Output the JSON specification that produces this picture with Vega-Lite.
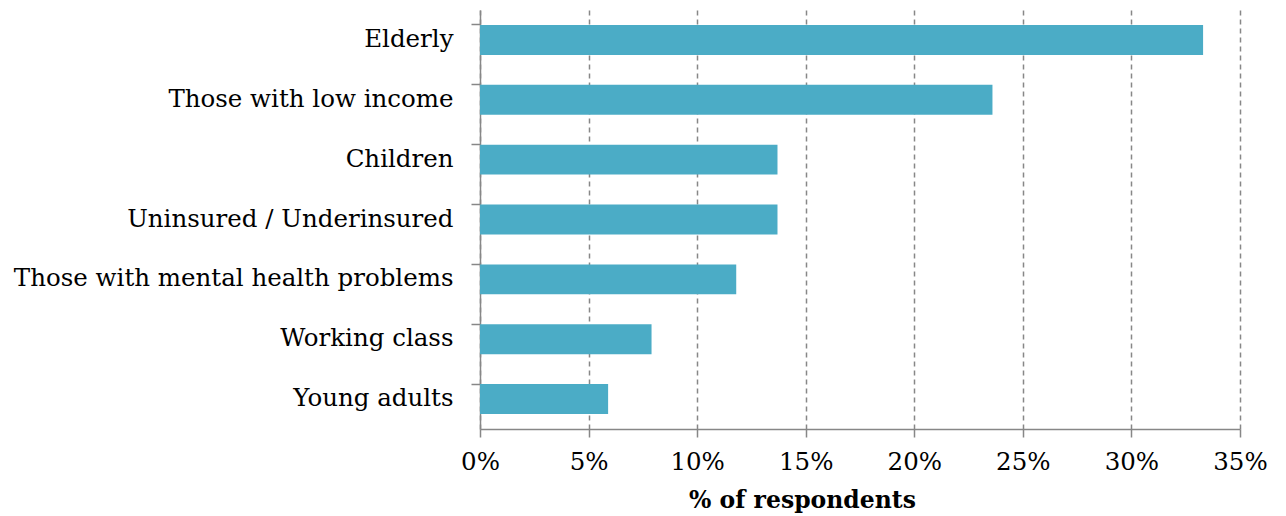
{
  "$schema": "https://vega.github.io/schema/vega-lite/v6.json",
  "width": 760,
  "height": 419,
  "autosize": {"type": "none"},
  "padding": {"left": 480, "top": 10, "right": 46, "bottom": 87},
  "background": "white",
  "config": {"view": {"stroke": null}, "font": "DejaVu Serif"},
  "data": {"values": [
    {"group": "Elderly", "pct": 0.333},
    {"group": "Those with low income", "pct": 0.236},
    {"group": "Children", "pct": 0.137},
    {"group": "Uninsured / Underinsured", "pct": 0.137},
    {"group": "Those with mental health problems", "pct": 0.118},
    {"group": "Working class", "pct": 0.079},
    {"group": "Young adults", "pct": 0.059}
  ]},
  "mark": {"type": "bar", "color": "#4BACC6"},
  "encoding": {
    "y": {
      "field": "group", "type": "nominal", "sort": null,
      "scale": {"paddingInner": 0.5, "paddingOuter": 0.25},
      "axis": {
        "title": null, "domainColor": "#878787", "domainWidth": 1.5,
        "tickColor": "#878787", "tickWidth": 1.5, "tickSize": 9, "bandPosition": 0,
        "labelFont": "DejaVu Serif", "labelFontSize": 24.5, "labelColor": "#000",
        "labelPadding": 18, "labelLimit": 500
      }
    },
    "x": {
      "field": "pct", "type": "quantitative",
      "scale": {"domain": [0, 0.35], "nice": false},
      "axis": {
        "format": ".0%", "values": [0, 0.05, 0.1, 0.15, 0.2, 0.25, 0.3, 0.35],
        "title": "% of respondents",
        "titleFont": "DejaVu Serif", "titleFontSize": 23.5, "titleFontWeight": "bold", "titleColor": "#000",
        "titleX": 322, "titleY": 78, "titleBaseline": "alphabetic", "titleAnchor": "middle", "titleAlign": "center",
        "labelFont": "DejaVu Serif", "labelFontSize": 24.5, "labelColor": "#000", "labelPadding": 13,
        "labelFlush": false, "labelOverlap": false,
        "domainColor": "#878787", "domainWidth": 1.5,
        "tickColor": "#878787", "tickWidth": 1.5, "tickSize": 8,
        "grid": true, "gridColor": "#878787", "gridWidth": 1.5, "gridDash": [5, 4]
      }
    }
  }
}
